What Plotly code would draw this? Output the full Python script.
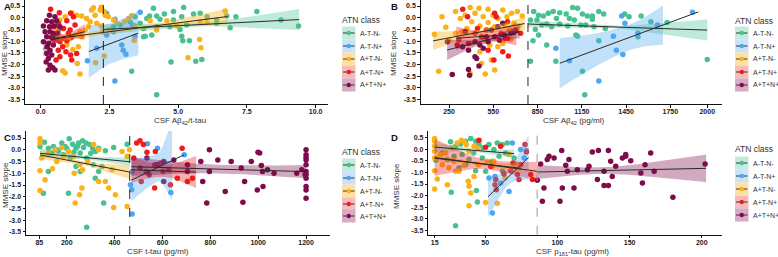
import numpy as np
import plotly.graph_objects as go

W, H = 778, 257
GROUPS = ["A-T-N-", "A-T-N+", "A+T-N-", "A+T-N+", "A+T+N+"]
DOT = ["#47C18F", "#4DA6F2", "#FBB117", "#F01B1B", "#7F0C4A"]
BAND = ["rgba(71,193,143,0.35)", "rgba(77,166,242,0.35)", "rgba(251,177,23,0.40)",
        "rgba(240,27,27,0.35)", "rgba(127,12,74,0.35)"]
KEY = ["#c3eadb", "#c9e3fa", "#fde0a3", "#f9baba", "#d7abc3"]

# ---------------- Panel A : CSF Abeta42/t-tau ----------------
a_g_x = [4.1,5.2,4.83,5.56,5.8,4.5,4.22,3.96,3.86,4.34,4.83,5.13,6.05,6.4,6.77,7.1,7.86,8.74,9.38,6.89,6.4,5.31,5.07,4.7,4.22,3.74,3.74,3.8,4.04,5.13,5.17,5.41,4.74,5.64,5.86,3.31,4.22,2.65,2.89,3.25,3.43,3.62]
a_g_y = [0.4,0.44,0.26,0.16,0.19,0.16,0.07,0.07,-0.03,-0.07,-0.1,0.04,0.04,-0.1,0.07,0.04,0.26,-0.1,-0.36,-0.43,-0.24,-0.31,-0.5,-0.39,-0.39,-0.46,-0.81,-0.79,-0.74,-0.79,-0.99,-0.99,-1.89,-1.86,-1.79,-2.29,-3.29,-0.39,-0.31,-0.17,0.04,-0.24]
a_b_x = [1.7,2.04,2.4,2.26,2.7,3.62,2.95,3.0,3.1,2.7,3.35,3.43,2.4,2.65]
a_b_y = [-1.84,-1.31,0.19,-0.6,-0.07,0.23,-1.17,-1.39,-1.56,-2.71,-0.31,-0.79,-0.74,-0.6]
a_o_x = [0.89,1.13,1.31,1.49,1.67,1.85,1.98,2.16,2.04,1.8,1.62,1.43,1.29,1.07,0.95,1.17,1.37,1.49,1.33,0.8,0.89,1.43,2.0,2.31,2.34,2.46,2.65,2.77,3.05,3.2,3.31,3.43,3.98,4.22,4.59,4.95,5.8,6.05,6.71,5.78,5.83,5.36,3.4,2.26,1.73,2.2,2.5,0.58,0.7,1.92,2.2,2.3]
a_o_y = [0.04,0.21,0.11,0.07,-0.03,0.33,0.11,0.33,-0.24,-0.17,-0.53,-0.6,-0.74,-0.89,-1.17,-1.36,-1.24,-0.81,-1.96,-2.27,-2.36,-2.41,-1.93,-1.64,0.11,0.04,-0.1,-0.24,-0.17,-0.03,0.09,-0.36,-0.13,-0.53,-0.13,-0.36,-0.17,-0.21,0.29,-0.93,-1.29,-1.71,-0.96,-0.6,-0.39,-0.36,-0.53,-0.46,-0.1,0.43,0.45,0.28]
a_r_x = [0.36,0.68,1.09,1.19,0.95,0.64,0.83,1.07,1.25,1.13,0.95,0.7,0.52,0.8,0.64,0.92,1.09,1.31,0.7,0.56,1.13,0.61,0.46,1.01,0.83]
a_r_y = [0.36,0.21,0.19,0.04,-0.13,-0.24,-0.46,-0.53,-0.31,-0.84,-0.99,-1.03,-0.96,-1.24,-1.39,-1.46,-1.6,-1.53,-1.67,-1.81,-1.81,-0.67,-0.39,-0.67,-0.89]
a_p_x = [0.32,0.52,0.22,0.4,0.58,0.1,0.32,0.5,0.7,0.16,0.34,0.46,0.22,0.4,0.1,0.28,0.46,0.24,0.34,0.22,0.4,0.28,0.34,0.44,0.28,0.52,0.58,0.2]
a_p_y = [0.11,0.04,-0.13,-0.17,-0.13,-0.36,-0.39,-0.36,-0.39,-0.6,-0.6,-0.67,-0.81,-0.84,-1.03,-1.1,-1.17,-1.24,-1.39,-1.53,-1.6,-1.74,-2.03,-2.14,-2.24,-2.24,-0.93,-1.89]

# ---------------- Panel B : CSF Abeta42 ----------------
b_g_x = [824,857,890,923,956,1000,1044,1088,1121,1154,1187,1221,1265,1298,846,879,912,945,1000,1055,1099,1143,1176,1232,1309,1441,1470,1552,1618,1728,835,857,819,912,1110,1121,1265,1530,802,974,1154,1170,2000,802,978,1066,1221]
b_g_y = [0.26,0.11,0.07,0.19,0.26,0.21,0.16,0.44,0.4,0.16,0.07,-0.07,0.26,0.16,-0.1,-0.31,-0.27,-0.39,-0.27,-0.36,-0.1,-0.31,-0.31,-0.39,-0.46,0.16,0.04,0.07,-0.17,-0.21,-0.5,-0.74,-0.99,-1.17,-0.74,-0.79,-0.99,-0.81,-1.86,-1.86,-2.29,-3.29,-1.79,-0.1,-0.03,-0.03,0.07]
b_b_x = [974,1066,1265,1364,1384,1428,1420,1442,1662,1900,1530]
b_b_y = [-1.31,-1.84,-2.71,-0.79,-1.39,-1.57,0.07,-0.24,-0.31,0.23,-0.67]
b_o_x = [151,180,202,228,294,327,360,393,426,453,482,515,548,581,614,643,674,713,746,691,724,660,627,559,515,459,404,371,338,294,404,459,492,526,581,614,669,470,537,559,393,495,250]
b_o_y = [-0.71,-2.29,0.04,-0.41,0.26,-0.03,0.11,0.44,0.19,0.4,0.04,0.36,0.11,-0.03,0.33,0.04,0.19,0.26,0.07,-0.24,-0.36,-0.53,-0.31,-0.39,-0.21,-0.36,-0.17,-0.46,-0.6,-0.67,-1.1,-1.46,-0.96,-1.17,-1.24,-1.1,-0.93,-1.96,-1.81,-2.24,-2.39,-2.41,-0.96]
b_r_x = [343,376,426,443,470,503,559,570,603,630,515,554,614,652,382,305,316,647,691,735,647]
b_r_y = [0.36,0.04,-0.67,-0.46,-0.81,-0.53,0.19,0.04,-0.67,-0.89,-1.39,-1.81,-1.46,-1.64,-1.1,-1.17,-0.93,-0.89,-0.6,-0.67,-0.17]
b_p_x = [239,272,382,389,453,437,426,482,515,559,592,625,669,702,426,459,382,342,503,537,581,614,360]
b_p_y = [-1.03,-2.43,-2.21,-2.46,-2.07,-1.74,-1.67,-1.31,-1.03,-0.81,-0.96,-0.74,-0.67,-0.53,-1.03,-1.17,-1.39,-1.24,-0.81,-0.53,-0.39,-0.24,-0.6]

# ---------------- Panel C : CSF t-tau ----------------
c_g_x = [88,106,123,144,158,179,193,210,224,238,249,266,280,294,308,319,333,361,396,452,186,214,256,283,311,333,238,256,123,102,207,319,354,283,347,137,165,200,230,270,300,245]
c_g_y = [0.14,0.32,0.07,0.14,0,0.29,0.14,0.47,0.24,0.07,0.29,0.39,0.29,0.22,0.07,-0.07,0.07,-0.04,0.1,0.24,-0.21,-0.35,-0.14,-0.35,-0.64,-0.92,-0.71,-0.92,-0.92,-1.85,-1.85,-1.21,-2.27,-3.3,-0.71,-0.14,-0.05,0.05,-0.1,0.1,-0.15,0.15]
c_b_x = [537,579,466,471,473,635,691,473]
c_b_y = [0.26,0.07,-1.49,-1.7,-2.74,-1.82,-0.21,-0.92]
c_o_x = [88,88,123,88,88,109,140,158,186,207,235,253,263,231,266,287,312,333,361,375,396,452,389,431,452,462,254,228,151,179,95,403,333]
c_o_y = [0.47,0.29,-0.14,-0.89,-1.73,-1.28,-0.81,-0.5,-0.28,-0.07,-2.27,-1.92,-1.63,-1.0,-0.85,-0.5,0.22,0,-1.35,-1.63,-2.46,-2.42,-0.85,-0.07,-0.28,0,-0.64,-0.28,0,0.1,-0.35,-1.92,-1.35]
c_r_x = [492,506,520,535,570,480,511,532,567,602,567,633,662,704,725,682,626,591]
c_r_y = [0.29,0.39,0.22,-0.1,-0.07,-0.35,-1.35,-0.92,-0.64,-0.92,-1.63,-1.49,-1.21,-1.35,-1.21,0.07,-0.85,-0.57]
c_p_x = [535,577,605,647,704,760,796,796,768,785,831,862,887,929,943,936,971,999,1006,1013,1018,1020,1039,1066,996,1161,1182,1200,1200,1200,1200,1200,1200,1200,1200,1200,1200,1200,1196,544,605,506,704]
c_p_y = [-0.35,-0.64,-0.5,-0.43,-0.64,-0.5,0,-0.92,-1.35,-2.27,-0.43,-1.78,-0.5,-0.78,-1.35,-2.23,-0.5,-0.1,-0.14,-0.67,-0.92,-1.56,-0.85,-1.0,-1.71,-1.0,-0.85,0,-0.21,-0.33,-0.43,-0.64,-0.92,-1.06,-1.21,-1.56,-1.71,-2.06,-1.06,-1.06,-1.35,-0.78,-0.92]

# ---------------- Panel D : CSF p181-tau ----------------
d_g_x = [15.7,26,29.5,33,36.5,40,43.4,45.7,48.5,52.6,56,58.4,61.9,65.3,20.3,23.8,28.4,34,38.8,42,48,54.8,59.6,64.2,70,31.9,36.5,43.4,26.5,43.9,44.6,29.5,50.3,61.9]
d_g_y = [-0.47,0.33,0.14,0.24,0.36,0.47,0.36,0.21,0.07,0.21,0,0.28,0.21,0.28,-0.15,-0.44,-0.3,-0.22,-0.44,-0.15,-0.37,-0.51,-0.3,-0.15,-0.37,-0.8,-0.66,-0.92,-1.86,-1.78,-2.28,-3.31,-0.95,-0.95]
d_b_x = [52.6,56.8,55,66.5,68.8,74.6,78.5,77,60.7]
d_b_y = [-1.24,-1.17,-2.76,-1.82,0.28,0,-0.05,-0.37,-1.46]
d_o_x = [15,15,15,15,15,15,15,16.8,19,22.6,27.2,30.7,35.3,38.8,42.3,23.8,24.9,28.4,31.9,35.3,38.3,38.8,38.8,40,42.3,45.3,50.3,51.5,55,56,58.4,63.7,66.5,71,29.5,20.3,33.5,37,45]
d_o_y = [0.47,0.36,0.14,-0.08,-0.37,-0.92,-1.72,-1.28,-0.22,-0.15,0.07,0.28,0.33,-0.08,0.14,-1.53,-0.8,-0.51,-0.95,-0.69,-1.38,-1.6,-2.44,-1.89,-1.17,-0.66,-2.3,-0.51,-0.73,-0.51,-2.33,-1.24,-0.22,-0.63,-0.95,-0.66,0.4,0.2,0.05]
d_r_x = [50.3,45.7,53.8,57.3,56.8,57.7,63,67.7,72.3,74.6,78.5,77.6,81.5,82.7,60.7,73.4,69.3]
d_r_y = [0.1,0.4,-0.73,-1.31,-1.53,-1.75,-1.07,-0.92,-1.09,-0.66,-0.11,0.21,-1.09,-1.31,0.14,-1.31,-0.59]
d_p_x = [86.1,88.4,89.6,90.7,93,94.2,97.7,101.8,103,103.4,105.8,106.9,108,111.5,113.8,120.8,121.9,124.2,127.7,128.4,132.3,132.3,135.3,135.3,136.9,138,140.4,145,147.3,147.3,150.8,157.8,158.9,160.7,164.6,167,180,202.3]
d_p_y = [-1.34,-0.63,-2.25,-1.67,-0.44,-0.3,-0.37,-2.25,-0.05,-1.67,-0.69,-0.95,-0.44,-1.67,-0.88,-0.88,-0.73,-0.11,-1.31,-0.05,-0.95,-1.56,-1.56,-0.05,-0.51,-1.17,-0.73,-0.37,-0.22,-0.3,-0.49,-1.02,-1.46,-0.66,-0.15,-0.95,-2.08,-0.63]

# Fitted lines: [x0, x1, y0, y1, halfwidth@x0, halfwidth@centre, halfwidth@x1, band end x, centre x]
fit_a = [[2.3, 9.4, -0.5, -0.08, 0.22, 0.08, 0.45, None, None],
         [1.75, 3.55, -1.45, -0.66, 1.15, 0.85, 0.95, None, None],
         [0.5, 6.8, -0.9, 0.05, 0.15, 0.07, 0.33, None, None],
         [0.36, 1.6, -0.95, -0.6, 0.25, 0.1, 0.33, None, None],
         [0.1, 0.75, -1.35, -0.5, 0.3, 0.12, 0.3, None, None]]
fit_b = [[785, 2000, -0.27, -0.53, 0.15, 0.06, 0.45, None, None],
         [1000, 1940, -1.95, 0.25, 1.07, 0.55, 1.4, 1700, None],
         [142, 763, -0.99, -0.25, 0.39, 0.1, 0.3, None, None],
         [299, 706, -0.88, -0.7, 0.5, 0.2, 0.48, None, None],
         [237, 729, -1.38, -0.6, 0.43, 0.12, 0.28, None, None]]
fit_c = [[88, 464, -0.15, -0.51, 0.2, 0.07, 0.17, None, None],
         [470, 691, -1.29, -0.21, 0.9, 0.6, 3.0, 640, None],
         [88, 464, -0.22, -0.95, 0.18, 0.08, 0.3, None, None],
         [470, 740, -0.85, -0.95, 0.55, 0.25, 0.68, None, None],
         [470, 1200, -0.72, -0.93, 0.4, 0.18, 0.28, None, None]]
fit_d = [[15, 70, 0.1, -0.18, 0.2, 0.07, 0.17, None, None],
         [52, 80, -2.05, -0.35, 0.9, 0.35, 0.95, None, None],
         [15, 75, -0.38, -0.82, 0.15, 0.07, 0.2, None, None],
         [15, 86, -0.35, -0.95, 0.8, 0.2, 0.4, None, None],
         [86, 203, -0.98, -0.82, 0.3, 0.14, 0.6, None, 130]]

cutoffs = [2.28, 785, 463, 86]

panels = [
    dict(pts=[(a_g_x, a_g_y), (a_b_x, a_b_y), (a_o_x, a_o_y), (a_r_x, a_r_y), (a_p_x, a_p_y)], fit=fit_a,
         xr=[-0.57, 10.45], yr=[-3.69, 0.757], px=(25, 328), py=(0, 104),
         tv=[0, 2.5, 5, 7.5, 10], tt=["0.0", "2.5", "5.0", "7.5", "10.0"]),
    dict(pts=[(b_g_x, b_g_y), (b_b_x, b_b_y), (b_o_x, b_o_y), (b_r_x, b_r_y), (b_p_x, b_p_y)], fit=fit_b,
         xr=[58, 2100], yr=[-3.69, 0.757], px=(420.7, 722), py=(0, 104),
         tv=[250, 550, 850, 1150, 1450, 1750, 2000], tt=["250", "550", "850", "1150", "1450", "1750", "2000"]),
    dict(pts=[(c_g_x, c_g_y), (c_b_x, c_b_y), (c_o_x, c_o_y), (c_r_x, c_r_y), (c_p_x, c_p_y)], fit=fit_c,
         xr=[29.4, 1300], yr=[-3.63, 0.8], px=(26, 330), py=(131, 235),
         tv=[85, 200, 400, 600, 800, 1000, 1200], tt=["85", "200", "400", "600", "800", "1000", "1200"]),
    dict(pts=[(d_g_x, d_g_y), (d_b_x, d_b_y), (d_o_x, d_o_y), (d_r_x, d_r_y), (d_p_x, d_p_y)], fit=fit_d,
         xr=[10.6, 214], yr=[-3.70, 0.8], px=(428.3, 722), py=(131, 234.7),
         tv=[15, 50, 100, 150, 200], tt=["15", "50", "100", "150", "200"]),
]

ytv = [0.5, 0, -0.5, -1, -1.5, -2, -2.5, -3, -3.5]
ytt = ["0.5", "0.0", "-0.5", "-1.0", "-1.5", "-2.0", "-2.5", "-3.0", "-3.5"]

fig = go.Figure()
FONT = "Liberation Sans, Arial, sans-serif"
layout = dict(width=W, height=H, margin=dict(l=0, r=0, t=0, b=0), showlegend=False, autosize=False,
              plot_bgcolor="white", paper_bgcolor="white", font=dict(family=FONT, color="#333"))
shapes, annots = [], []

def band(f):
    x0, x1, y0, y1, h0, hm, h1, bx, xm = f
    xe = bx if bx is not None else x1
    xm = xm if xm is not None else (x0 + x1) / 2
    xs = np.linspace(x0, xe, 60)
    yl = y0 + (y1 - y0) * (xs - x0) / (x1 - x0)
    t = np.where(xs < xm, (xs - xm) / (x0 - xm), (xs - xm) / (x1 - xm))
    he = np.where(xs < xm, h0, h1)
    hw = np.sqrt(hm ** 2 + (he ** 2 - hm ** 2) * t ** 2)
    return np.concatenate([xs, xs[::-1]]), np.concatenate([yl + hw, (yl - hw)[::-1]])

for i, p in enumerate(panels):
    n = "" if i == 0 else str(i + 1)
    xa, ya = "x" + n, "y" + n
    for g, (xs, ys) in enumerate(p["pts"]):
        fig.add_trace(go.Scatter(x=xs, y=ys, mode="markers", xaxis=xa, yaxis=ya,
                                 marker=dict(color=DOT[g], size=5.5, line=dict(width=0)), name=GROUPS[g]))
    for g, f in enumerate(p["fit"]):
        bx, by = band(f)
        fig.add_trace(go.Scatter(x=bx, y=by, mode="lines", fill="toself", fillcolor=BAND[g],
                                 line=dict(width=0), xaxis=xa, yaxis=ya, hoverinfo="skip"))
    for g, f in enumerate(p["fit"]):
        fig.add_trace(go.Scatter(x=[f[0], f[1]], y=[f[2], f[3]], mode="lines",
                                 line=dict(color="#2a2a2a", width=1), xaxis=xa, yaxis=ya, hoverinfo="skip"))
    axcommon = dict(showline=True, linecolor="#111", linewidth=1, ticks="outside", ticklen=2.5,
                    tickcolor="#111", showgrid=False, zeroline=False,
                    tickfont=dict(size=7, color="#222", family=FONT, weight="bold"))
    layout["xaxis" + n] = dict(domain=[p["px"][0] / W, p["px"][1] / W], range=p["xr"], anchor=ya,
                               tickmode="array", tickvals=p["tv"], ticktext=p["tt"],
                               ticklabelstandoff=-2, **axcommon)
    layout["yaxis" + n] = dict(domain=[1 - p["py"][1] / H, 1 - p["py"][0] / H], range=p["yr"], anchor=xa,
                               tickmode="array", tickvals=ytv, ticktext=ytt, **axcommon)
    shapes.append(dict(type="line", xref=xa, yref=ya + " domain", x0=cutoffs[i], x1=cutoffs[i], y0=0, y1=1,
                       line=dict(color="#999" if i == 3 else "#222", width=1, dash="dash")))

def px2paper(x, y):
    return x / W, 1 - y / H

# panel letters, axis titles
letters = [("A", 2, 6), ("B", 389, 6), ("C", 2, 137), ("D", 389, 137)]
for t, x, y in letters:
    px_, py_ = px2paper(x, y)
    annots.append(dict(text="<b>%s</b>" % t, x=px_, y=py_, xref="paper", yref="paper", showarrow=False,
                       xanchor="left", yanchor="middle", font=dict(size=9.5, color="#111")))
xtitles = [("CSF Aβ<sub>42</sub>/t-tau", 180, 121), ("CSF Aβ<sub>42</sub> (pg/ml)", 573, 121),
           ("CSF t-tau (pg/ml)", 158, 251.5), ("CSF p<sub>181</sub>-tau (pg/ml)", 572, 251.5)]
for t, x, y in xtitles:
    px_, py_ = px2paper(x, y)
    annots.append(dict(text=t, x=px_, y=py_, xref="paper", yref="paper", showarrow=False,
                       xanchor="center", yanchor="middle", font=dict(size=8, color="#333")))
ytitles = [(5, 53), (394, 53), (5, 185), (396, 186)]
for x, y in ytitles:
    px_, py_ = px2paper(x, y)
    annots.append(dict(text="MMSE slope", x=px_, y=py_, xref="paper", yref="paper", showarrow=False,
                       textangle=-90, xanchor="center", yanchor="middle", font=dict(size=8, color="#333")))

# legends
legends = [(340, 20, [33, 46, 59, 72, 85]), (733, 21, [33, 46, 59, 72, 85]),
           (340, 152, [165, 178, 191, 204, 216]), (733, 149, [163, 176, 189, 202, 215])]
for lx, ty, rows in legends:
    px_, py_ = px2paper(lx, ty)
    annots.append(dict(text="ATN class", x=px_, y=py_, xref="paper", yref="paper", showarrow=False,
                       xanchor="left", yanchor="middle", font=dict(size=8.5, color="#333")))
    bx0, bx1 = lx + 2, lx + 15.5
    for g, ry in enumerate(rows):
        a0, b0 = px2paper(bx0, ry - 6.5)
        a1, b1 = px2paper(bx1, ry + 6.5)
        shapes.append(dict(type="rect", xref="paper", yref="paper", x0=a0, x1=a1, y0=b1, y1=b0,
                           fillcolor=KEY[g], line=dict(width=0), layer="above"))
        l0, lyy = px2paper(bx0 + 1, ry)
        l1, _ = px2paper(bx1 - 1, ry)
        shapes.append(dict(type="line", xref="paper", yref="paper", x0=l0, x1=l1, y0=lyy, y1=lyy,
                           line=dict(color="#333", width=1), layer="above"))
        c0, d0 = px2paper((bx0 + bx1) / 2 - 2.2, ry - 2.2)
        c1, d1 = px2paper((bx0 + bx1) / 2 + 2.2, ry + 2.2)
        shapes.append(dict(type="circle", xref="paper", yref="paper", x0=c0, x1=c1, y0=d1, y1=d0,
                           fillcolor=DOT[g], line=dict(width=0), layer="above"))
        tx, tyy = px2paper(bx1 + 2.5, ry)
        annots.append(dict(text=GROUPS[g], x=tx, y=tyy, xref="paper", yref="paper", showarrow=False,
                           xanchor="left", yanchor="middle", font=dict(size=7, color="#333")))

layout["shapes"] = shapes
layout["annotations"] = annots
fig.update_layout(**layout)
fig.write_html("out.html", config={"displayModeBar": False},
               post_script="document.body.style.margin='0';document.body.style.overflow='hidden';")
